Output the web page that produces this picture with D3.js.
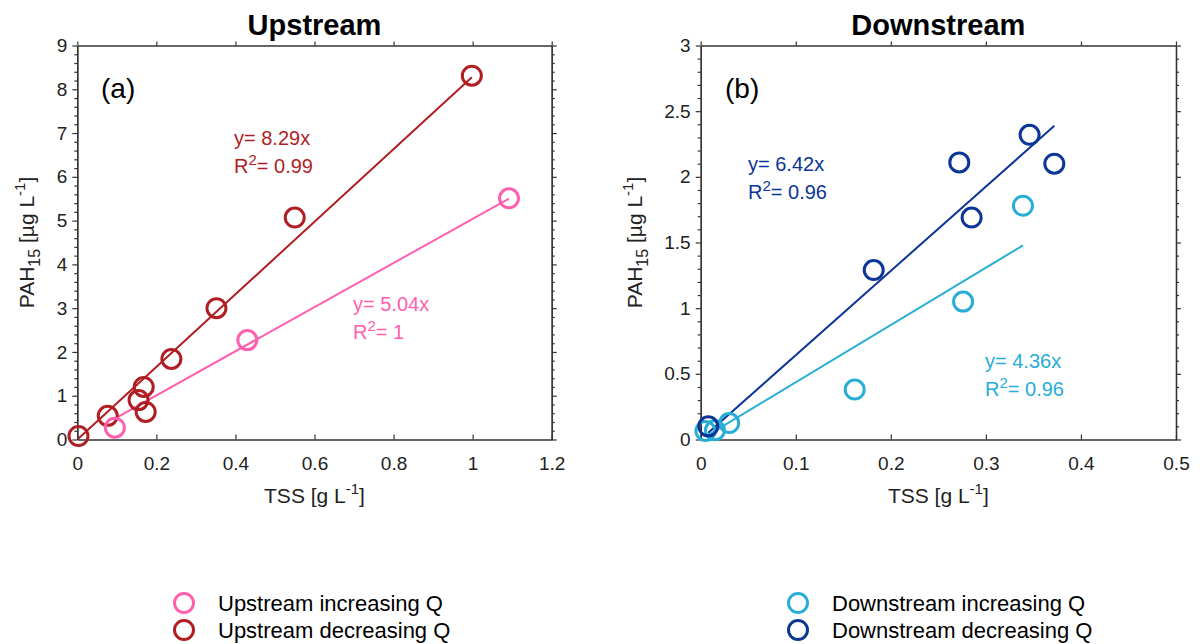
<!DOCTYPE html>
<html>
<head>
<meta charset="utf-8">
<script src="https://cdn.jsdelivr.net/npm/d3@7"></script>
<style>
  html, body { margin: 0; padding: 0; background: #fff; }
  svg { display: block; font-family: "Liberation Sans", Arial, sans-serif; }
</style>
</head>
<body>
<svg id="chart" width="1204" height="644"></svg>
<script>
// TSS [g/L] and PAH15 [µg/L] samples for each site and flow phase
const upIncTSS = [0.095, 0.430, 1.092];
const upIncPAH = [0.27, 2.27, 5.51];
const upDecTSS = [0.003, 0.077, 0.155, 0.168, 0.173, 0.238, 0.352, 0.550, 0.998];
const upDecPAH = [0.08, 0.54, 0.90, 1.20, 0.63, 1.84, 3.00, 5.07, 8.31];
const downIncTSS = [0.005, 0.015, 0.030, 0.162, 0.276, 0.339];
const downIncPAH = [0.065, 0.070, 0.125, 0.38, 1.05, 1.78];
const downDecTSS = [0.008, 0.182, 0.272, 0.285, 0.346, 0.372];
const downDecPAH = [0.10, 1.29, 2.11, 1.69, 2.32, 2.10];

// Regression through origin: slopes and R² labels
const fitSlopes = { upInc: 5.04, upDec: 8.29, downInc: 4.36, downDec: 6.42 };
const fitR2 = { upInc: "1", upDec: "0.99", downInc: "0.96", downDec: "0.96" };

// Tick values
const upXTicks = [0, 0.2, 0.4, 0.6, 0.8, 1, 1.2];
const upYTicks = [0, 1, 2, 3, 4, 5, 6, 7, 8, 9];
const downXTicks = [0, 0.1, 0.2, 0.3, 0.4, 0.5];
const downYTicks = [0, 0.5, 1, 1.5, 2, 2.5, 3];

const titles = ["Upstream", "Downstream"];
const panelTags = ["(a)", "(b)"];
const legendLabels = ["Upstream increasing Q", "Upstream decreasing Q",
                      "Downstream increasing Q", "Downstream decreasing Q"];

const colors = {
  upInc: "#ff5fae",
  upDec: "#b01e24",
  downInc: "#27add6",
  downDec: "#0b3596"
};

const svg = d3.select("#chart");
const TOP = 45.5, BOTTOM = 439.5;
const fontTick = 19, fontLabel = 21;

function drawPanel(cfg) {
  const x = d3.scaleLinear().domain(cfg.xDomain).range(cfg.xRange);
  const y = d3.scaleLinear().domain(cfg.yDomain).range([BOTTOM, TOP]);
  const g = svg.append("g");
  const [x0, x1] = cfg.xRange;

  const minorY = d3.range(cfg.yDomain[0], cfg.yDomain[1] + 1e-9, cfg.yMinor)
    .filter(v => !cfg.yTicks.some(t => Math.abs(t - v) < 1e-9));

  // bottom axis: ticks pointing into the plot
  const bx = g.append("g").attr("transform", `translate(0,${BOTTOM})`)
    .call(d3.axisBottom(x).tickValues(cfg.xTicks).tickFormat(d => String(d))
      .tickSizeInner(-5).tickSizeOuter(0).tickPadding(17));
  // top axis: ticks pointing outwards
  const tx = g.append("g").attr("transform", `translate(0,${TOP})`)
    .call(d3.axisTop(x).tickValues(cfg.xTicks).tickFormat("")
      .tickSizeInner(4).tickSizeOuter(0));
  // left axis with minor ticks
  const ly = g.append("g").attr("transform", `translate(${x0},0)`)
    .call(d3.axisLeft(y).tickValues(cfg.yTicks).tickFormat(d => String(d))
      .tickSizeInner(5).tickSizeOuter(0).tickPadding(5));
  const lyMinor = g.append("g").attr("transform", `translate(${x0},0)`)
    .call(d3.axisLeft(y).tickValues(minorY).tickFormat("").tickSizeInner(3).tickSizeOuter(0));
  // right axis with minor ticks
  const ry = g.append("g").attr("transform", `translate(${x1},0)`)
    .call(d3.axisRight(y).tickValues(cfg.yTicks).tickFormat("").tickSizeInner(5).tickSizeOuter(0));
  const ryMinor = g.append("g").attr("transform", `translate(${x1},0)`)
    .call(d3.axisRight(y).tickValues(minorY).tickFormat("").tickSizeInner(3).tickSizeOuter(0));

  [bx, tx, ly, lyMinor, ry, ryMinor].forEach(a => {
    a.selectAll(".domain").attr("stroke", "#333").attr("stroke-width", 1.3);
    a.selectAll(".tick line").attr("stroke", "#333").attr("stroke-width", 1.2);
    a.selectAll("text").attr("font-size", fontTick).attr("fill", "#222")
      .attr("font-family", "Liberation Sans, Arial, sans-serif");
  });

  // title
  g.append("text").attr("x", (x0 + x1) / 2).attr("y", 35)
    .attr("text-anchor", "middle").attr("font-weight", "bold")
    .attr("font-size", 29).attr("fill", "#000").text(cfg.title);

  // panel tag
  g.append("text").attr("x", cfg.tagX).attr("y", 98)
    .attr("font-size", 28).attr("fill", "#000").text(cfg.tag);

  // x label
  const xl = g.append("text").attr("x", (x0 + x1) / 2).attr("y", 503)
    .attr("text-anchor", "middle").attr("font-size", fontLabel).attr("fill", "#222");
  xl.append("tspan").text("TSS [g L");
  xl.append("tspan").attr("dy", -9).attr("font-size", 15).text("-1");
  xl.append("tspan").attr("dy", 9).text("]");

  // y label
  const yl = g.append("text")
    .attr("transform", `translate(${cfg.yLabelX},${(TOP + BOTTOM) / 2}) rotate(-90)`)
    .attr("text-anchor", "middle").attr("font-size", fontLabel).attr("fill", "#222");
  yl.append("tspan").text("PAH");
  yl.append("tspan").attr("dy", 6).attr("font-size", 16).text("15");
  yl.append("tspan").attr("dy", -6).text(" [µg L");
  yl.append("tspan").attr("dy", -9).attr("font-size", 15).text("-1");
  yl.append("tspan").attr("dy", 9).text("]");

  // series: fit line then circles
  cfg.series.forEach(s => {
    const ext = d3.extent(s.tss);
    const fit = ext.map(v => [v, s.slope * v]);
    g.append("path")
      .attr("d", d3.line().x(d => x(d[0])).y(d => y(d[1]))(fit))
      .attr("stroke", s.color).attr("stroke-width", 2).attr("fill", "none");
  });
  cfg.series.forEach(s => {
    g.append("g").selectAll("circle")
      .data(d3.zip(s.tss, s.pah)).join("circle")
      .attr("cx", d => x(d[0])).attr("cy", d => y(d[1])).attr("r", 9.5)
      .attr("fill", "none").attr("stroke", s.color).attr("stroke-width", 3);
  });

  // equations
  cfg.series.forEach(s => {
    const t1 = g.append("text").attr("x", s.labelX).attr("y", s.labelY)
      .attr("font-size", 20).attr("fill", s.color);
    t1.text(`y= ${s.slope.toFixed(2)}x`);
    const t2 = g.append("text").attr("x", s.labelX).attr("y", s.labelY + 28)
      .attr("font-size", 20).attr("fill", s.color);
    t2.append("tspan").text("R");
    t2.append("tspan").attr("dy", -8).attr("font-size", 15).text("2");
    t2.append("tspan").attr("dy", 8).text(`= ${s.r2}`);
  });
}

drawPanel({
  title: titles[0], tag: panelTags[0], tagX: 101,
  xDomain: [0, 1.2], xRange: [77.3, 551.7], yDomain: [0, 9], yMinor: 0.2,
  xTicks: upXTicks, yTicks: upYTicks, yLabelX: 34,
  series: [
    { tss: upDecTSS, pah: upDecPAH, slope: fitSlopes.upDec, r2: fitR2.upDec, color: colors.upDec, labelX: 234, labelY: 145 },
    { tss: upIncTSS, pah: upIncPAH, slope: fitSlopes.upInc, r2: fitR2.upInc, color: colors.upInc, labelX: 353, labelY: 311 }
  ]
});

drawPanel({
  title: titles[1], tag: panelTags[1], tagX: 725,
  xDomain: [0, 0.5], xRange: [700.7, 1176], yDomain: [0, 3], yMinor: 0.1,
  xTicks: downXTicks, yTicks: downYTicks, yLabelX: 642,
  series: [
    { tss: downIncTSS, pah: downIncPAH, slope: fitSlopes.downInc, r2: fitR2.downInc, color: colors.downInc, labelX: 985, labelY: 368 },
    { tss: downDecTSS, pah: downDecPAH, slope: fitSlopes.downDec, r2: fitR2.downDec, color: colors.downDec, labelX: 748, labelY: 171 }
  ]
});

// legend
const legendItems = [
  { label: legendLabels[0], color: colors.upInc, x: 184, y: 603 },
  { label: legendLabels[1], color: colors.upDec, x: 184, y: 630 },
  { label: legendLabels[2], color: colors.downInc, x: 798, y: 603 },
  { label: legendLabels[3], color: colors.downDec, x: 798, y: 630 }
];
const lg = svg.append("g").selectAll("g").data(legendItems).join("g")
  .attr("transform", d => `translate(${d.x},${d.y})`);
lg.append("circle").attr("r", 9.5).attr("fill", "none")
  .attr("stroke", d => d.color).attr("stroke-width", 3);
lg.append("text").attr("x", 34).attr("y", 8).attr("font-size", 22)
  .attr("fill", "#000").text(d => d.label);
</script>
</body>
</html>
